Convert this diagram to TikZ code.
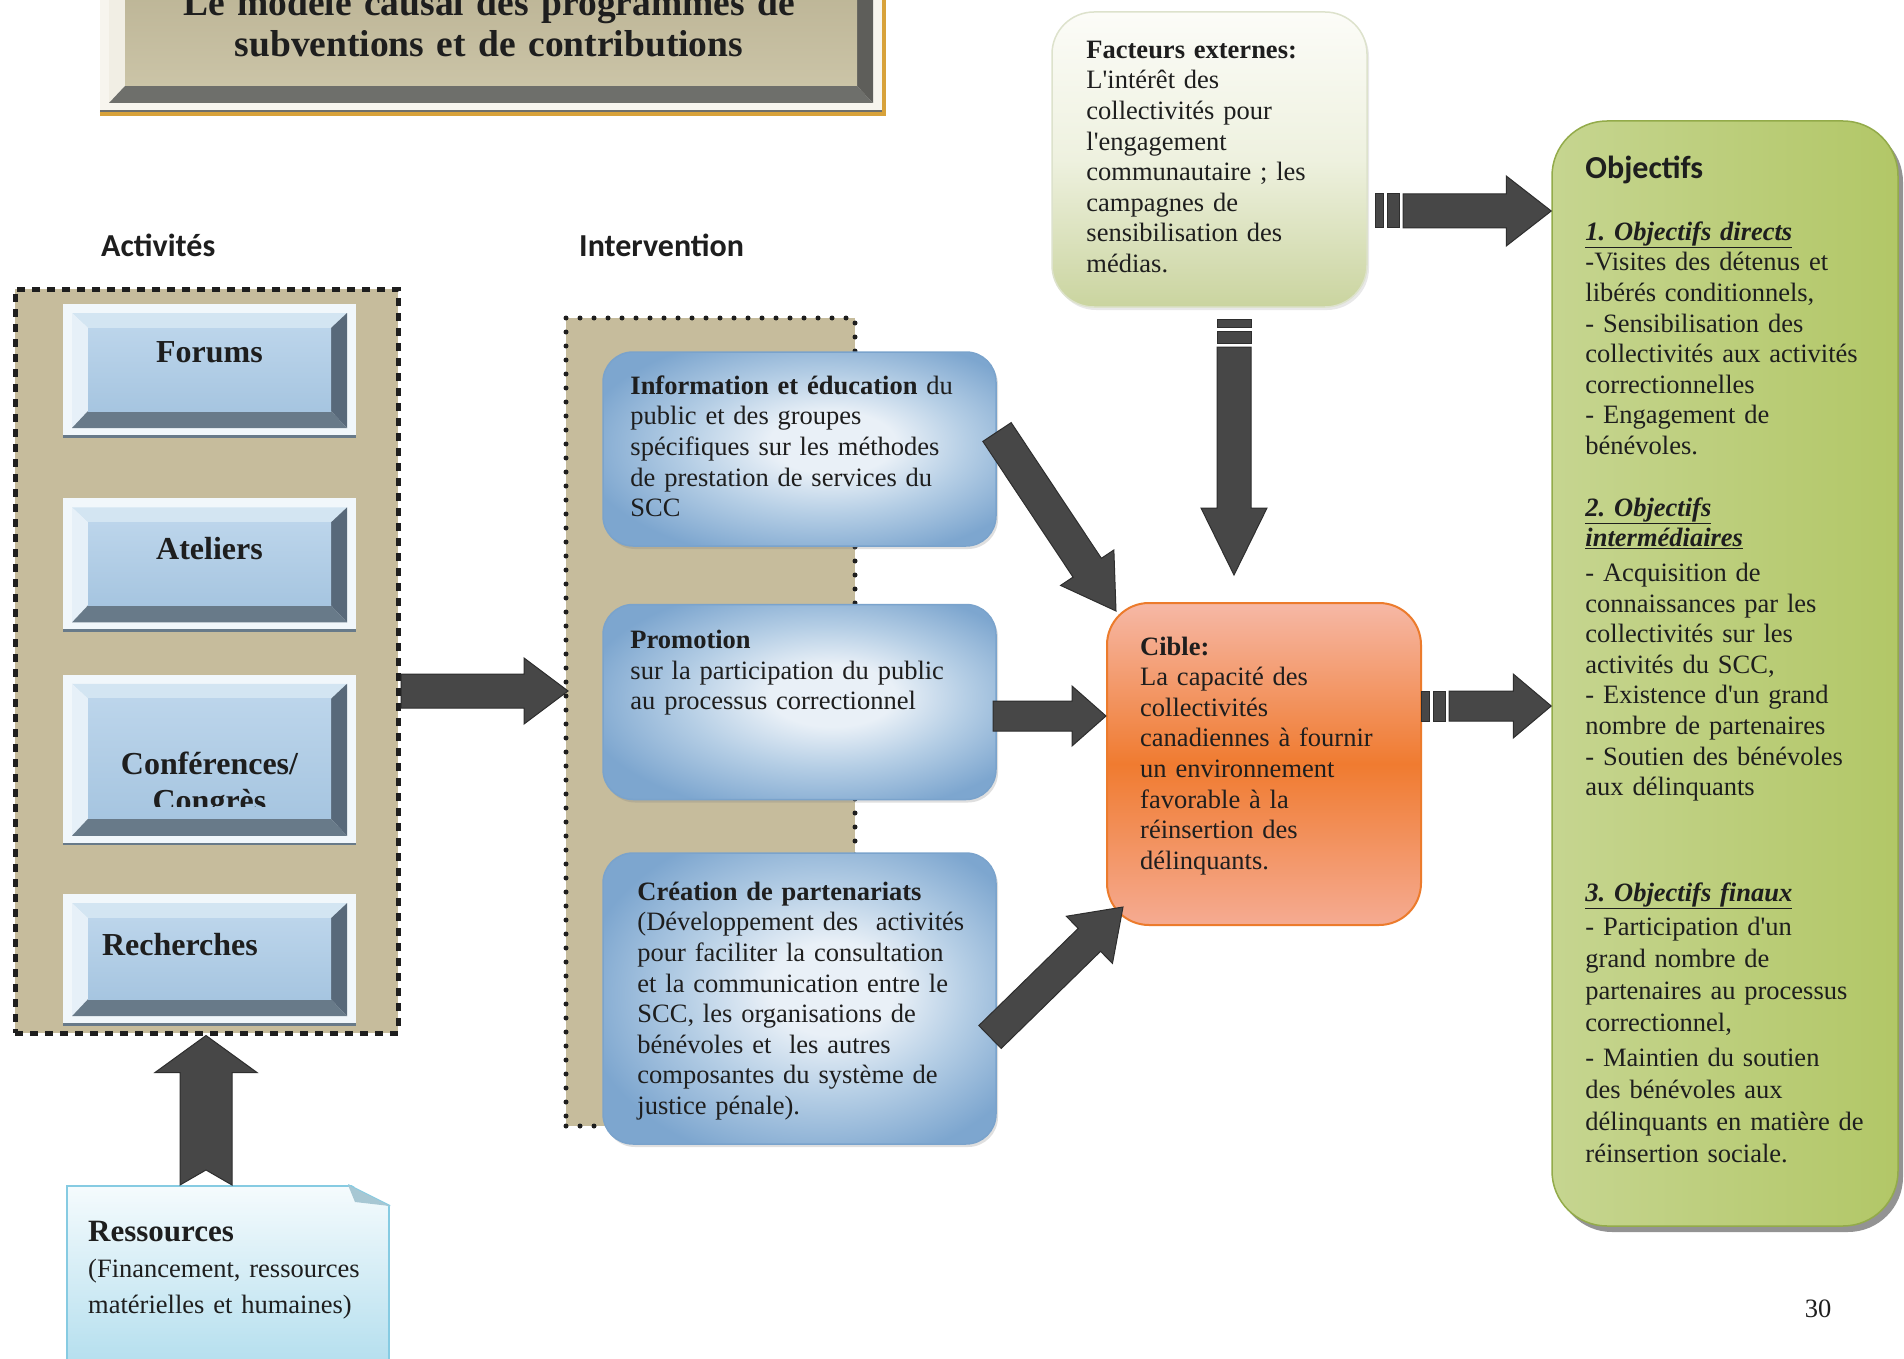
\documentclass[tikz,border=0pt]{standalone}
\usepackage{fontspec}
\setmainfont{Liberation Serif}[Ligatures=TeXOff]
\newfontfamily\hdfont{Carlito}
\usetikzlibrary{calc,positioning,shadows}

\definecolor{ink}{HTML}{1E1E1E}
\definecolor{boxtan}{HTML}{C6BC9C}
\definecolor{arrgrey}{HTML}{474747}
\definecolor{arredge}{HTML}{2E2E2E}
\definecolor{bvout}{HTML}{F1F7FB}
\definecolor{bvtop}{HTML}{D3E5F2}
\definecolor{bvleft}{HTML}{E6F0F8}
\definecolor{bvright}{HTML}{58697A}
\definecolor{bvbot}{HTML}{687A89}
\definecolor{bvin1}{HTML}{BCD5EB}
\definecolor{bvin2}{HTML}{A6C5E0}
\definecolor{tiout}{HTML}{F7F5EE}
\definecolor{titop}{HTML}{EAE6D8}
\definecolor{tileft}{HTML}{F1EEE4}
\definecolor{tiright}{HTML}{5E5E5A}
\definecolor{tibot}{HTML}{6E6F6B}
\definecolor{tiin1}{HTML}{B9B192}
\definecolor{tiin2}{HTML}{CBC4A7}
\definecolor{tigold}{HTML}{D8A23A}
\definecolor{bxhi}{HTML}{E9F0F7}
\definecolor{bxmid}{HTML}{B5CEE5}
\definecolor{bxlo}{HTML}{7DA6CF}
\definecolor{bxedge}{HTML}{7AA3CC}
\definecolor{exttop}{HTML}{FCFCF8}
\definecolor{extmid}{HTML}{EEF1DF}
\definecolor{extbot}{HTML}{CAD49F}
\definecolor{extedge}{HTML}{DDE2CC}
\definecolor{cibtop}{HTML}{F6B8A6}
\definecolor{cibmid}{HTML}{F07B30}
\definecolor{cibbot}{HTML}{F5AB92}
\definecolor{cibedge}{HTML}{EC7B2C}
\definecolor{objl}{HTML}{C6D590}
\definecolor{objr}{HTML}{B2C767}
\definecolor{objedge}{HTML}{93AB4A}
\definecolor{restop}{HTML}{F5FBFD}
\definecolor{resbot}{HTML}{B5DFEE}
\definecolor{resedge}{HTML}{86CBE2}
\definecolor{resfold}{HTML}{A7C7D3}

\pgfdeclareradialshading{gloss}{\pgfpoint{5bp}{2bp}}{color(0bp)=(bxhi); color(8bp)=(bxhi); color(18bp)=(bxmid); color(30bp)=(bxlo); color(50bp)=(bxlo)}

% bevelled frame, drawn inside a rectangle node
\newcommand\bevelpic[6]{%
  \def\bvbox{path picture bounding box}%
  \fill[#1] ($(\bvbox.north west)+(9pt,-9pt)$) -- ($(\bvbox.north east)+(-9pt,-9pt)$) -- ($(\bvbox.north east)+(-25pt,-24pt)$) -- ($(\bvbox.north west)+(25pt,-24pt)$) -- cycle;
  \fill[#2] ($(\bvbox.north west)+(9pt,-9pt)$) -- ($(\bvbox.north west)+(25pt,-24pt)$) -- ($(\bvbox.south west)+(25pt,26pt)$) -- ($(\bvbox.south west)+(9pt,9pt)$) -- cycle;
  \fill[#3] ($(\bvbox.north east)+(-9pt,-9pt)$) -- ($(\bvbox.south east)+(-9pt,9pt)$) -- ($(\bvbox.south east)+(-25pt,26pt)$) -- ($(\bvbox.north east)+(-25pt,-24pt)$) -- cycle;
  \fill[#4] ($(\bvbox.south west)+(9pt,9pt)$) -- ($(\bvbox.south west)+(25pt,26pt)$) -- ($(\bvbox.south east)+(-25pt,26pt)$) -- ($(\bvbox.south east)+(-9pt,9pt)$) -- cycle;
  \shade[top color=#5, bottom color=#6] ($(\bvbox.north west)+(25pt,-24pt)$) rectangle ($(\bvbox.south east)+(-25pt,26pt)$);
  \draw[#4, line width=4pt] (\bvbox.south west) -- (\bvbox.south east);
}

% block arrow: start, tip, shaft half width, head half width, head length, tail notch
\newcommand\blockarrow[6]{%
  \coordinate (hb) at ($(#2)!#5!(#1)$);
  \filldraw[blockarr] ($(#1)!#3!90:(#2)$) -- ($(hb)!#3!90:(#2)$) -- ($(hb)!#4!90:(#2)$) -- (#2)
    -- ($(hb)!#4!-90:(#2)$) -- ($(hb)!#3!-90:(#2)$) -- ($(#1)!#3!-90:(#2)$) -- ($(#1)!#6!(#2)$) -- cycle;
}
\newcommand\stripebar[5]{%
  \coordinate (sb1) at ($(#1)!#3!(#2)$);
  \coordinate (sb2) at ($(#1)!#4!(#2)$);
  \filldraw[blockarr] ($(sb1)!#5!90:(#2)$) -- ($(sb2)!#5!90:(#2)$) -- ($(sb2)!#5!-90:(#2)$) -- ($(sb1)!#5!-90:(#2)$) -- cycle;
}
\newcommand\stripearrow[5]{%
  \stripebar{#1}{#2}{0pt}{8pt}{#3}
  \stripebar{#1}{#2}{12pt}{24pt}{#3}
  \coordinate (ss) at ($(#1)!28pt!(#2)$);
  \blockarrow{ss}{#2}{#3}{#4}{#5}{0pt}
}

\begin{document}
\frenchspacing
\begin{tikzpicture}[x=1pt,y=-1pt]
\tikzstyle{squareframe} = [rectangle, inner sep=0pt, fill=boxtan, draw=ink, line width=5pt, dash pattern=on 8pt off 7pt]
\tikzstyle{dotframe} = [rectangle, inner sep=0pt, fill=boxtan, draw=ink, line width=5pt, dash pattern=on 0pt off 14pt, line cap=round]
\tikzstyle{bluebevel} = [rectangle, inner sep=0pt, fill=bvout, path picture={\bevelpic{bvtop}{bvleft}{bvright}{bvbot}{bvin1}{bvin2}}]
\tikzstyle{titlebevel} = [rectangle, inner sep=0pt, fill=tiout, path picture={\bevelpic{titop}{tileft}{tiright}{tibot}{tiin1}{tiin2}}]
\tikzstyle{bluebox} = [rectangle, rounded corners=30pt, inner sep=0pt, minimum width=393pt, draw=bxedge, line width=1.5pt, shade, shading=gloss, drop shadow={opacity=.25, shadow xshift=2pt, shadow yshift=-3pt}]
\tikzstyle{extbox} = [rectangle, rounded corners=42pt, inner sep=0pt, draw=extedge, line width=1.5pt, top color=exttop, bottom color=extbot, middle color=extmid, drop shadow={opacity=.18, shadow xshift=2pt, shadow yshift=-3pt}]
\tikzstyle{ciblebox} = [rectangle, rounded corners=42pt, inner sep=0pt, draw=cibedge, line width=2pt, top color=cibtop, bottom color=cibbot, middle color=cibmid]
\tikzstyle{objbox} = [rectangle, rounded corners=55pt, inner sep=0pt, draw=objedge, line width=1.5pt, left color=objl, right color=objr, drop shadow={opacity=.6, shadow xshift=5pt, shadow yshift=-6pt, fill=black!70}]
\tikzstyle{resbox} = [rectangle, inner sep=0pt, draw=resedge, line width=2pt, top color=restop, bottom color=resbot]
\tikzstyle{body} = [inner sep=0pt, text width=390pt, align=left, text=ink, font=\fontsize{26.5}{30.6}\selectfont]
\tikzstyle{boxlabel} = [inner sep=0pt, text=ink, font=\bfseries\fontsize{32}{37}\selectfont]
\tikzstyle{sectlabel} = [inner sep=0pt, text=ink, font=\hdfont\bfseries\fontsize{32}{38}\selectfont]
\tikzstyle{blockarr} = [fill=arrgrey, draw=arredge, line width=1pt]

\useasboundingbox (0,0) rectangle (1904,1359);
\fill[white] (0,0) rectangle (1904,1359);

% title
\node[titlebevel, minimum width=782pt, minimum height=172pt] (title) at (491,26) {};
\draw[tigold, line width=4pt] ([yshift=-2pt]title.south west) -- ([shift={(2pt,-2pt)}]title.south east) -- ([xshift=2pt]title.north east);
\node[inner sep=0pt, text=ink, font=\bfseries\fontsize{37.5}{41}\selectfont, text width=770pt, align=center, anchor=base] (titletxt) at (489,16) {Le modèle causal des programmes de\\subventions et de contributions};

% activities
\node[sectlabel, anchor=base west] (lblact) at (101,257) {Activités};
\node[squareframe, minimum width=383pt, minimum height=744pt] (act) at (206.5,661) {};
\node[bluebevel, minimum width=293pt, minimum height=133pt] (forum) at (209.5,370.5) {};
\node[bluebevel, minimum width=293pt, minimum height=133pt, below=61pt of forum] (atel) {};
\node[bluebevel, minimum width=293pt, minimum height=170pt, below=43pt of atel] (conf) {};
\node[bluebevel, minimum width=293pt, minimum height=131pt, below=49pt of conf] (rech) {};
\node[boxlabel, anchor=base] (forumtxt) at ([yshift=-59pt]forum.north) {Forums};
\node[boxlabel, anchor=base] (ateltxt) at ([yshift=-61pt]atel.north) {Ateliers};
\begin{scope}
  \clip (conf.north west) rectangle ([yshift=-132pt]conf.north east);
  \node[boxlabel, text width=280pt, align=center, anchor=base] (conftxt) at ([yshift=-100pt]conf.north) {Conférences/\\Congrès};
\end{scope}
\node[boxlabel, anchor=base west] (rechtxt) at ([shift={(39pt,-61pt)}]rech.north west) {Recherches};

% intervention
\node[sectlabel, anchor=base west] (lblint) at (579,257) {Intervention};
\node[dotframe, minimum width=289pt, minimum height=808pt] (int) at (710.5,722) {};
\node[bluebox, minimum height=194pt] (info) at (799.5,449) {};
\node[bluebox, minimum height=195pt, below=57pt of info] (promo) {};
\node[bluebox, minimum height=291pt, below=52pt of promo] (part) {};
\node[body, anchor=base west] (infotxt) at ([shift={(28pt,-43pt)}]info.north west) {\textbf{Information et éducation} du\\public et des groupes\\spécifiques sur les méthodes\\de prestation de services du\\SCC};
\node[body, anchor=base west] (promotxt) at ([shift={(28pt,-45pt)}]promo.north west) {\textbf{Promotion}\\sur la participation du public\\au processus correctionnel};
\node[body, anchor=base west] (parttxt) at ([shift={(35pt,-48pt)}]part.north west) {\textbf{Création de partenariats}\\(Développement des\ \ activités\\pour faciliter la consultation\\et la communication entre le\\SCC, les organisations de\\bénévoles et\ \ les autres\\composantes du système de\\justice pénale).};

% external factors and target
\node[extbox, minimum width=315pt, minimum height=295pt] (ext) at (1209.5,159.5) {};
\node[body, anchor=base west] (exttxt) at ([shift={(35pt,-47pt)}]ext.north west) {\textbf{Facteurs externes:}\\L'intérêt des\\collectivités pour\\l'engagement\\communautaire ; les\\campagnes de\\sensibilisation des\\médias.};
\node[ciblebox, minimum width=314pt, minimum height=322pt] (cible) at (1264,764) {};
\node[body, anchor=base west] (cibletxt) at ([shift={(34pt,-53pt)}]cible.north west) {\textbf{Cible:}\\La capacité des\\collectivités\\canadiennes à fournir\\un environnement\\favorable à la\\réinsertion des\\délinquants.};

% objectives
\node[objbox, minimum width=346pt, minimum height=1105pt] (obj) at (1725,673.5) {};
\node[sectlabel, anchor=base west] (objhead) at ([shift={(34pt,-58pt)}]obj.north west) {Objectifs};
\node[body, anchor=base west] (obj1) at ([shift={(34pt,-120pt)}]obj.north west) {\underline{\textbf{\textit{1. Objectifs directs}}}\\-Visites des détenus et\\libérés conditionnels,\\- Sensibilisation des\\collectivités aux activités\\correctionnelles\\- Engagement de\\bénévoles.};
\node[body, anchor=base west] (obj2) at ([shift={(34pt,-396pt)}]obj.north west) {\underline{\textbf{\textit{2. Objectifs}}}\\\underline{\textbf{\textit{intermédiaires}}}\\[4pt]- Acquisition de\\connaissances par les\\collectivités sur les\\activités du SCC,\\- Existence d'un grand\\nombre de partenaires\\- Soutien des bénévoles\\aux délinquants};
\node[body, anchor=base west, font=\fontsize{26.5}{32}\selectfont] (obj3) at ([shift={(34pt,-781pt)}]obj.north west) {\underline{\textbf{\textit{3. Objectifs finaux}}}\\[2pt]- Participation d'un\\grand nombre de\\partenaires au processus\\correctionnel,\\[3pt]- Maintien du soutien\\des bénévoles aux\\délinquants en matière de\\réinsertion sociale.};

% resources
\node[resbox, minimum width=322pt, minimum height=176pt] (res) at (228,1274) {};
\fill[white] ($(res.north east)+(-42pt,2pt)$) -- ($(res.north east)+(2pt,2pt)$) -- ($(res.north east)+(2pt,-23pt)$) -- cycle;
\draw[resedge, line width=2pt] ($(res.north east)+(-42pt,0pt)$) -- ($(res.north east)+(0pt,-21pt)$);
\fill[resfold] ($(res.north east)+(-42pt,0pt)$) -- ($(res.north east)+(0pt,-21pt)$) -- ($(res.north east)+(-35pt,-17pt)$) -- cycle;
\node[body, anchor=base west, font=\fontsize{26.5}{36}\selectfont] (restxt) at ([shift={(22pt,-56pt)}]res.north west) {{\bfseries\fontsize{31}{36}\selectfont Ressources}\\(Financement, ressources\\matérielles et humaines)};

\node[inner sep=0pt, text=ink, font=\fontsize{26.5}{30}\selectfont, anchor=base] (pagenum) at (1818,1317) {30};

% connectors
\coordinate (act-out) at (401,691);
\coordinate (int-in) at (568,691);
\coordinate (res-out) at (206,1185);
\coordinate (act-in) at (act.south -| res-out);
\coordinate (info-out) at (997,432);
\coordinate (cib-in1) at (1116,611);
\coordinate (promo-out) at (993,716);
\coordinate (cib-in2) at (cible.west |- promo-out);
\coordinate (part-out) at (990,1037);
\coordinate (cib-in3) at (1123,907);
\coordinate (ext-out) at (1234,319);
\coordinate (cib-in4) at (1234,575);
\coordinate (ext-out2) at (1375,211);
\coordinate (obj-in1) at (obj.west |- ext-out2);
\coordinate (cib-out) at (1421,706);
\coordinate (obj-in2) at (obj.west |- cib-out);

\blockarrow{act-out}{int-in}{17pt}{33pt}{44pt}{0pt}
\blockarrow{res-out}{act-in}{26pt}{51pt}{37pt}{15pt}
\blockarrow{info-out}{cib-in1}{17pt}{32pt}{52pt}{0pt}
\blockarrow{promo-out}{cib-in2}{15pt}{30pt}{34pt}{0pt}
\blockarrow{part-out}{cib-in3}{16pt}{33pt}{47pt}{0pt}
\stripearrow{ext-out}{cib-in4}{17pt}{33pt}{67pt}
\stripearrow{ext-out2}{obj-in1}{17pt}{35pt}{45pt}
\stripearrow{cib-out}{obj-in2}{15pt}{32pt}{38pt}
\end{tikzpicture}
\end{document}
